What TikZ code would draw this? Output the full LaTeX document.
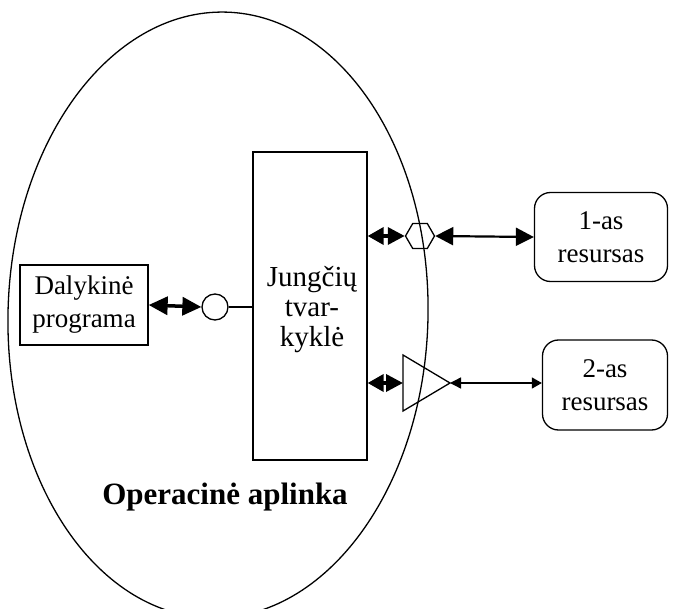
\documentclass[tikz,border=0pt]{standalone}
\usepackage{fontspec}
\setmainfont{Liberation Serif}
\usetikzlibrary{arrows.meta,shapes.geometric}
\begin{document}
\begin{tikzpicture}[x=1pt,y=-1pt,
  line width=1.3pt,
  txt/.style={font=\fontsize{27}{33}\selectfont, align=center},
  boxsq/.style={draw, txt, inner sep=0pt},
  boxr/.style={draw, txt, rounded corners=16pt, inner sep=0pt},
  dblbig/.style={{Triangle[length=19pt,width=18pt]}-{Triangle[length=19pt,width=18pt]}, line width=3.5pt},
  dbl/.style={{Triangle[length=16pt,width=17pt]}-{Triangle[length=17pt,width=17pt]}, line width=3.5pt},
  dblmid/.style={{Triangle[length=18pt,width=18pt]}-{Triangle[length=18pt,width=18pt]}, line width=2.2pt},
  dblthin/.style={{Triangle[length=11pt,width=11pt]}-{Triangle[length=10pt,width=11pt]}, line width=1.4pt}
]
\useasboundingbox (0,0) rectangle (674,609);
% environment ellipse
\begin{scope}
\clip (0,0) rectangle (674,609);
\node[draw, ellipse, minimum width=420pt, minimum height=606pt, inner sep=0pt, rotate=-1.5] (env) at (218,315) {};
\end{scope}
% boxes
\node[boxsq, minimum width=128pt, minimum height=80pt] (dal) at (84,305) {Dalykinė\\programa};
\node[draw, minimum width=114pt, minimum height=308pt, inner sep=0pt] (jung) at (310,306) {};
\node[txt, font=\fontsize{29}{30}\selectfont] (jt) at (312,310) {Jungčių\\tvar-\\kyklė};
\node[boxr, minimum width=133pt, minimum height=89pt] (r1) at (601,237) {1-as\\resursas};
\node[boxr, minimum width=125pt, minimum height=90pt] (r2) at (605,385) {2-as\\resursas};
% circle
\node[draw, circle, minimum size=26pt, inner sep=0pt] (cir) at (215,307) {};
% hexagon
\node[draw, regular polygon, regular polygon sides=6, minimum size=29pt, inner sep=0pt] (hex) at (420,236) {};
% triangle
\coordinate (ta) at (403,355);
\coordinate (tb) at (403,411);
\coordinate (tap) at (450,383);
\coordinate (tl) at (403,383);
\draw[line join=miter] (ta) -- (tap) -- (tb) -- cycle;
% label
\node[font=\bfseries\fontsize{31}{36}\selectfont] (lab) at (225,497) {Operacinė aplinka};
% connectors
\draw[dblbig] (dal.east) -- (cir.west);
\draw (cir.east) -- (cir.east -| jung.west);
\draw[dbl] (jung.east |- hex.west) -- (hex.west);
\draw[dblmid] (hex.east) -- (r1.west);
\draw[dbl] (jung.east |- tl) -- (tl);
\draw[dblthin] (tap) -- (tap -| r2.west);
\end{tikzpicture}
\end{document}
